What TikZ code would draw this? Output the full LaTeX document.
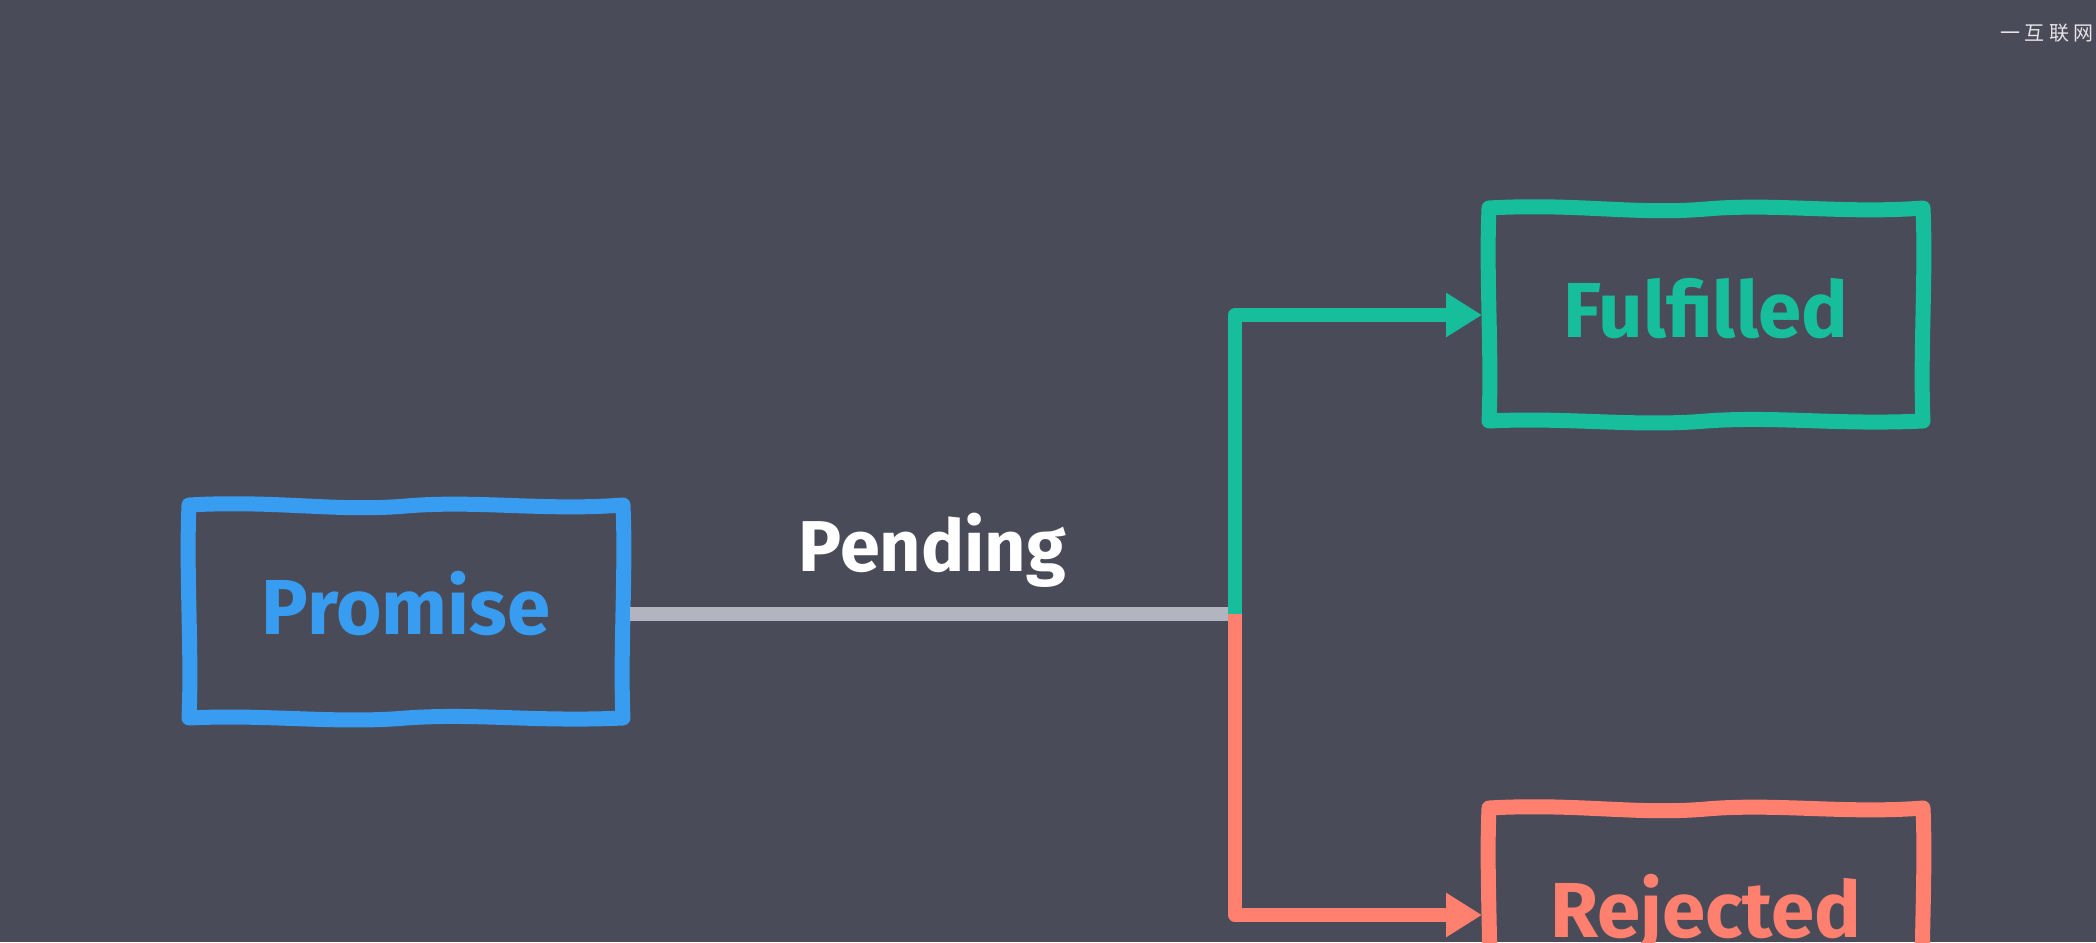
\documentclass[tikz,border=0pt]{standalone}
\usepackage{fontspec}
\setmainfont{Fira Sans}
\newfontfamily\cjk{Noto Sans CJK SC}
\usepackage{tikz}
\usetikzlibrary{arrows.meta}
\tikzset {>={Triangle[length=18pt,width=21pt]}}
\definecolor{slate}{RGB}{73,75,89}
\definecolor{promiseblue}{RGB}{56,156,240}
\definecolor{okgreen}{RGB}{22,190,156}
\definecolor{failred}{RGB}{255,128,110}
\definecolor{linegray}{RGB}{178,180,192}
\tikzset{state/.style={minimum width=216.5pt,minimum height=106.5pt,
    outer sep=3.75pt,text height=28pt,text depth=5.4pt,
    font=\fontsize{39}{44}\selectfont\bfseries},
  wavybox/.pic={
    \draw[#1,line width=7.5pt,line join=round,line cap=round]
      (-217,-107) .. controls (-130,-112) and (-70,-100) .. (0,-106)
      .. controls (70,-112) and (140,-101) .. (217,-107)
      .. controls (220,-40) and (214,40) .. (217,106)
      .. controls (130,110) and (70,101) .. (0,106)
      .. controls (-70,112) and (-140,102) .. (-217,106)
      .. controls (-214,40) and (-220,-40) .. cycle;},
  wire/.style={line width=7pt,line join=round}}

\begin{document}
\begin{tikzpicture}[x=0.5pt,y=-0.5pt]
\fill[slate] (0,0) rectangle (2096,942);
\useasboundingbox (0,0) rectangle (2096,942);
\pic at (406,612) {wavybox=promiseblue};
\pic at (1706,315) {wavybox=okgreen};
\pic at (1706,915) {wavybox=failred};
\node (promise) [state,text=promiseblue] at (406,612) {Promise};
\node (fulfilled) [state,text=okgreen] at (1706,315) {Fulfilled};
\node (rejected) [state,text=failred] at (1706,915) {Rejected};
\coordinate (split) at (1235,614);
\draw[wire,linegray] (promise.east |- split) --
  node[above=10pt,inner sep=0pt,text=white,
       font=\fontsize{36}{42}\selectfont\bfseries] (pending) {Pending}
  (split);
\draw[wire,okgreen,->] (split) |- (fulfilled);
\draw[wire,failred,->] (split) |- (rejected);
\node (mark) [anchor=east,text=white!85!slate,inner sep=0pt,
  font=\cjk\fontsize{10}{11}\selectfont] at (2094,33) {一\ 互\ 联\ 网};
\end{tikzpicture}
\end{document}
